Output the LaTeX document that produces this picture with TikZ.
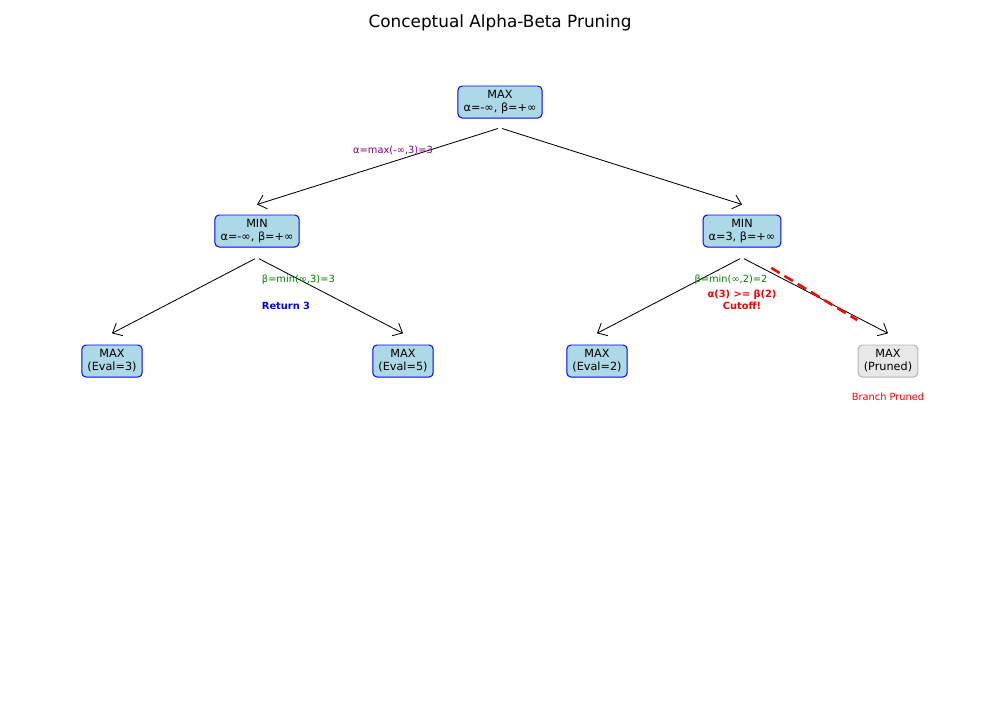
\documentclass[tikz,border=0pt]{standalone}
\usepackage{fontspec}
\setmainfont{DejaVu Sans}
\usepackage{tikz}
\usetikzlibrary{arrows.meta,calc}
\definecolor{nodefill}{HTML}{ADD8E6}
\definecolor{prunefill}{HTML}{E8E8E8}
\definecolor{pruneline}{HTML}{B4B4B4}
\definecolor{notegreen}{HTML}{008000}
\definecolor{notepurple}{HTML}{800080}

\begin{document}
\begin{tikzpicture}[x=0.025cm,y=-0.025cm,>={Straight Barb[length=2mm,width=3.6mm]},
  every node/.style={font=\fontsize{8}{9.4}\selectfont},
  treebox/.style={draw=blue,line width=0.7pt,fill=nodefill,rounded corners=3pt,align=center,inner xsep=4pt,inner ysep=2pt,minimum height=0.8cm},
  prunebox/.style={treebox,draw=pruneline,fill=prunefill},
  edge/.style={->,line width=0.6pt},
  note/.style={font=\fontsize{7}{8.4}\selectfont}]
\useasboundingbox (0,0) rectangle (1000,700);
\node (title) at (500,23) {\fontsize{12}{14}\selectfont Conceptual Alpha-Beta Pruning};
% tree nodes
\node[treebox] (root) at (500,102) {MAX\\α=-∞, β=+∞};
\node[treebox] (minl) at (257,231) {MIN\\α=-∞, β=+∞};
\node[treebox] (minr) at (742,231) {MIN\\α=3, β=+∞};
\node[treebox] (leafa) at (112,361) {MAX\\(Eval=3)};
\node[treebox] (leafb) at (403,361) {MAX\\(Eval=5)};
\node[treebox] (leafc) at (597,361) {MAX\\(Eval=2)};
\node[prunebox] (leafd) at (888,361) {MAX\\(Pruned)};
% edges
\draw[edge] ([xshift=-0.5mm,yshift=-2.5mm]root.south) -- ([yshift=2.5mm]minl.north);
\draw[edge] ([xshift=0.5mm,yshift=-2.5mm]root.south) -- ([yshift=2.5mm]minr.north);
\draw[edge] ([xshift=-0.5mm,yshift=-2.8mm]minl.south) -- ([yshift=2.8mm]leafa.north);
\draw[edge] ([xshift=0.5mm,yshift=-2.8mm]minl.south) -- ([yshift=2.8mm]leafb.north);
\draw[edge] ([xshift=-0.5mm,yshift=-2.8mm]minr.south) -- ([yshift=2.8mm]leafc.north);
\draw[edge] ([xshift=0.5mm,yshift=-2.8mm]minr.south) -- ([yshift=2.8mm]leafd.north);
% cutoff
\draw[red,line width=1.8pt,dash pattern=on 7pt off 4pt] ($(minr.south)!0.2!(leafd.north)+(0,1)$) -- ($(minr.south)!0.79!(leafd.north)+(0,-4)$);
% notes
\node[note,text=notepurple] (amax) at (393,150) {α=max(-∞,3)=3};
\node[note,text=notegreen,anchor=west] (bminl) at (257,280) {β=min(∞,3)=3};
\node[note,text=blue,anchor=west,font=\fontsize{7}{8.4}\selectfont\bfseries] (ret) at (257,306) {Return 3};
\node[note,text=notegreen] (bminr) at (731,280) {β=min(∞,2)=2};
\node[note,text=red,align=center,font=\fontsize{7}{8.4}\selectfont\bfseries] (cut) at (742,300) {α(3) >= β(2)\\Cutoff!};
\node[note,text=red] (pruned) at (888,397) {Branch Pruned};
\end{tikzpicture}
\end{document}
